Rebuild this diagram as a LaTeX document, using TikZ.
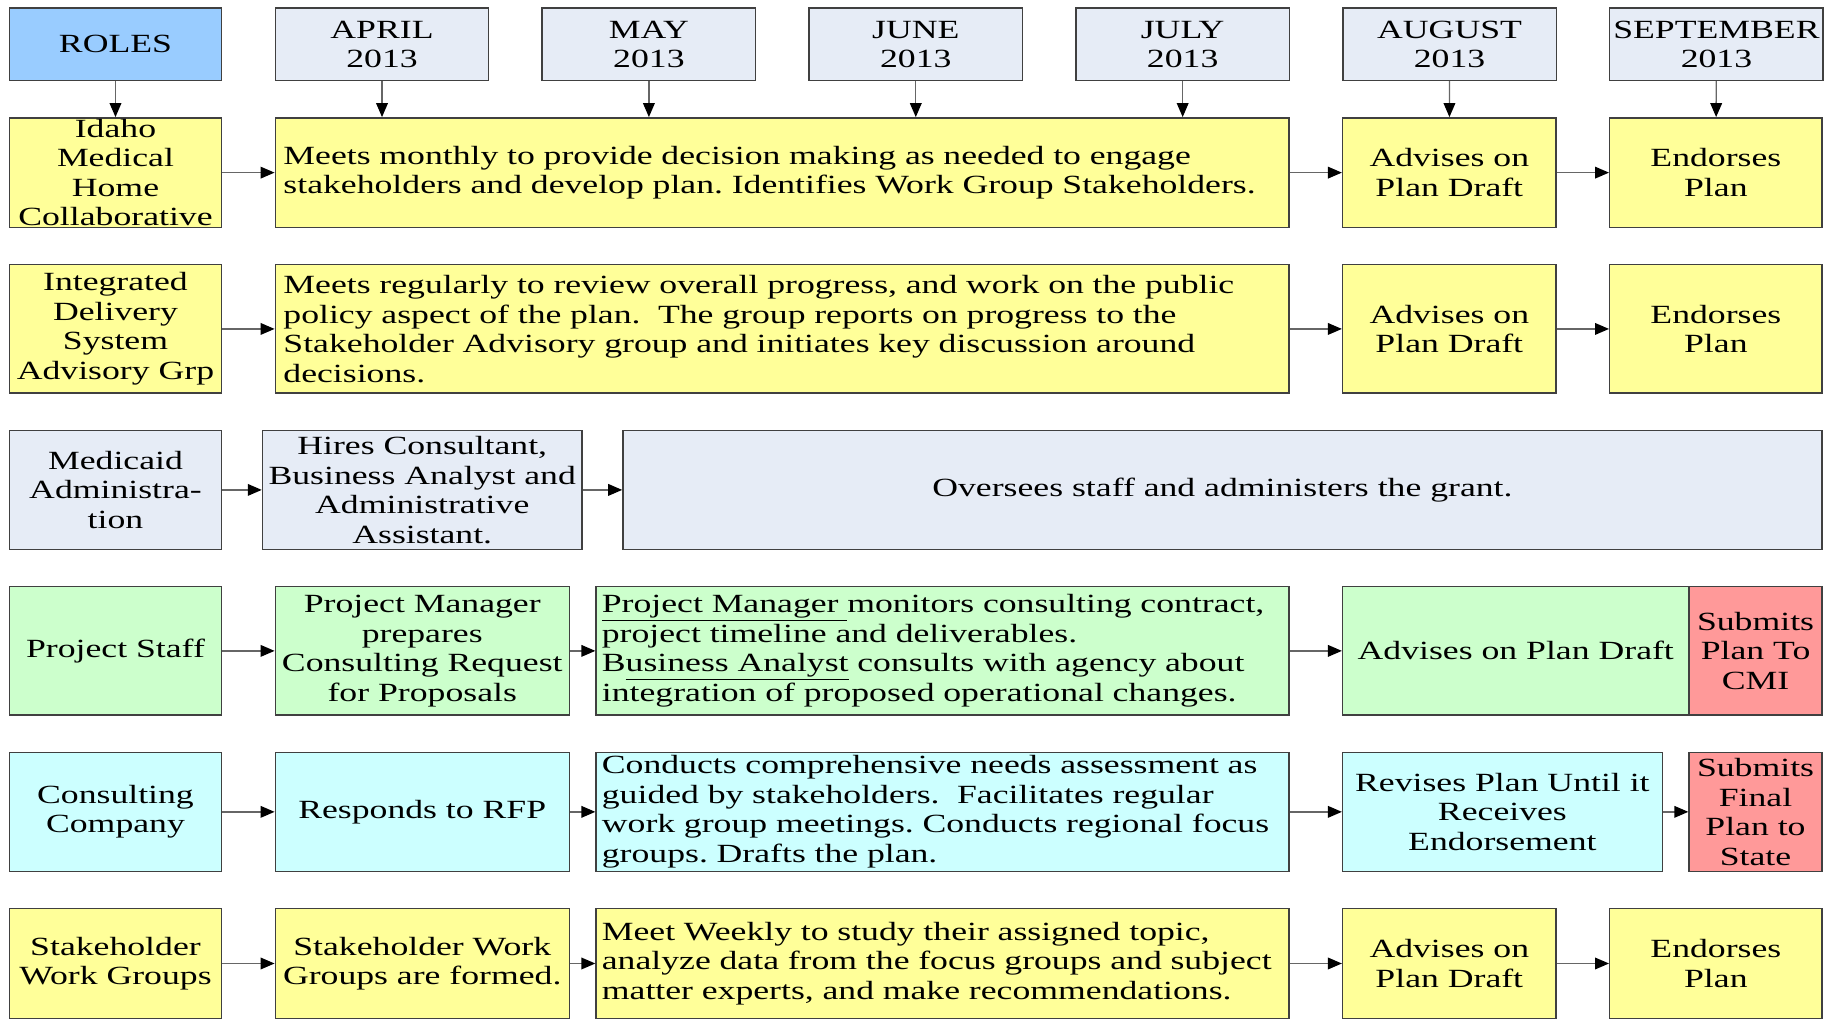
\documentclass[tikz,border=0pt]{standalone}
\usepackage{fontspec}
\setmainfont{Liberation Serif}[FakeStretch=1.36]
\usetikzlibrary{arrows.meta}
\definecolor{rolesblue}{HTML}{99CCFF}
\definecolor{monthgray}{HTML}{E6ECF6}
\definecolor{planyellow}{HTML}{FFFF99}
\definecolor{staffgreen}{HTML}{CCFFCC}
\definecolor{consultcyan}{HTML}{CCFFFF}
\definecolor{submitred}{HTML}{FF9999}
\frenchspacing

\tikzset{
  box/.style={draw=black!75, line width=1.2pt, inner sep=0pt, align=center,
    font=\fontsize{22.5}{25.3}\selectfont},
  lbox/.style={draw=black!75, line width=1.2pt, inner sep=0pt, align=left,
    font=\fontsize{22.5}{25.3}\selectfont},
  arr/.style={draw=black!60, line width=1.2pt,
    -{Triangle[length=12pt,width=10pt,color=black]}},
}

\begin{document}
\begin{tikzpicture}[x=1pt, y=-1pt]
    \useasboundingbox (0,0) rectangle (1568,874);
    % header row
    \node[box, fill=rolesblue, minimum width=182, minimum height=62] (roles) at (99,38) {ROLES};
    \foreach \mon [count=\i] in {APRIL, MAY, JUNE, JULY, AUGUST, SEPTEMBER}
        \node[box, fill=monthgray, minimum width=183, minimum height=62] (m\i) at ({327.5+228.8*(\i-1)},38) {\mon\\2013};

    % Idaho Medical Home Collaborative
    \node[box, fill=planyellow, minimum width=182, minimum height=94] (idaho) at (99,148) {Idaho\\Medical\\Home\\Collaborative};
    \node[lbox, fill=planyellow, minimum width=869, minimum height=94, text width=855] (idahomeet) at (670.5,148)
        {Meets monthly to provide decision making as needed to engage\\stakeholders and develop plan. Identifies Work Group Stakeholders.};
    \node[box, fill=planyellow, minimum width=183, minimum height=94] (idahoadv) at (1242.5,148) {Advises on\\Plan Draft};
    \node[box, fill=planyellow, minimum width=182, minimum height=94] (idahoend) at (1471,148) {Endorses\\Plan};

    % Integrated Delivery System
    \node[box, fill=planyellow, minimum width=182, minimum height=110] (ids) at (99,282) {Integrated\\Delivery\\System\\Advisory Grp};
    \node[lbox, fill=planyellow, minimum width=869, minimum height=110, text width=855] (idsmeet) at (670.5,282)
        {Meets regularly to review overall progress, and work on the public\\policy aspect of the plan.\ \ The group reports on progress to the\\Stakeholder Advisory group and initiates key discussion around\\decisions.};
    \node[box, fill=planyellow, minimum width=183, minimum height=110] (idsadv) at (1242.5,282) {Advises on\\Plan Draft};
    \node[box, fill=planyellow, minimum width=182, minimum height=110] (idsend) at (1471,282) {Endorses\\Plan};

    % Medicaid
    \node[box, fill=monthgray, minimum width=182, minimum height=102] (medicaid) at (99,420) {Medicaid\\Administra-\\tion};
    \node[box, fill=monthgray, minimum width=274, minimum height=102] (hires) at (362,420) {Hires Consultant,\\Business Analyst and\\Administrative\\Assistant.};
    \node[box, fill=monthgray, minimum width=1028, minimum height=102] (oversee) at (1048,420) {Oversees staff and administers the grant.};

    % Project Staff
    \node[box, fill=staffgreen, minimum width=182, minimum height=110] (staff) at (99,558) {Project Staff};
    \node[box, fill=staffgreen, minimum width=252, minimum height=110] (pmprep) at (362,558) {Project Manager\\prepares\\Consulting Request\\for Proposals};
    \node[lbox, fill=staffgreen, minimum width=594, minimum height=110, text width=584] (pmmon) at (808,558)
        {\underline{Project Manager }monitors consulting contract,\\project timeline and deliverables.\\B\underline{usiness Analyst} consults with agency about\\integration of proposed operational changes.};
    \node[box, fill=staffgreen, minimum width=297, minimum height=110] (staffadv) at (1299.5,558) {Advises on Plan Draft};
    \node[box, fill=submitred, minimum width=114, minimum height=110] (cmi) at (1505,558) {Submits\\Plan To\\CMI};

    % Consulting Company
    \node[box, fill=consultcyan, minimum width=182, minimum height=102] (consult) at (99,696) {Consulting\\Company};
    \node[box, fill=consultcyan, minimum width=252, minimum height=102] (rfp) at (362,696) {Responds to RFP};
    \node[lbox, fill=consultcyan, minimum width=594, minimum height=102, text width=584] (assess) at (808,696)
        {Conducts comprehensive needs assessment as\\guided by stakeholders.\ \ Facilitates regular\\work group meetings. Conducts regional focus\\groups. Drafts the plan.};
    \node[box, fill=consultcyan, minimum width=274, minimum height=102] (revise) at (1288,696) {Revises Plan Until it\\Receives\\Endorsement};
    \node[box, fill=submitred, minimum width=114, minimum height=102] (state) at (1505,696) {Submits\\Final\\Plan to\\State};

    % Stakeholder Work Groups
    \node[box, fill=planyellow, minimum width=182, minimum height=94] (swg) at (99,826) {Stakeholder\\Work Groups};
    \node[box, fill=planyellow, minimum width=252, minimum height=94] (formed) at (362,826) {Stakeholder Work\\Groups are formed.};
    \node[lbox, fill=planyellow, minimum width=594, minimum height=94, text width=584] (weekly) at (808,826)
        {Meet Weekly to study their assigned topic,\\analyze data from the focus groups and subject\\matter experts, and make recommendations.};
    \node[box, fill=planyellow, minimum width=183, minimum height=94] (swgadv) at (1242.5,826) {Advises on\\Plan Draft};
    \node[box, fill=planyellow, minimum width=182, minimum height=94] (swgend) at (1471,826) {Endorses\\Plan};

    % arrows down from the header
    \draw[arr] (roles) -- (idaho);
    \foreach \i in {1,...,4}
        \draw[arr] (m\i) -- (m\i |- idahomeet.north);
    \draw[arr] (m5) -- (idahoadv);
    \draw[arr] (m6) -- (idahoend);

    % arrows along the rows
    \draw[arr] (idaho) -- (idahomeet);
    \draw[arr] (idahomeet) -- (idahoadv);
    \draw[arr] (idahoadv) -- (idahoend);
    \draw[arr] (ids) -- (idsmeet);
    \draw[arr] (idsmeet) -- (idsadv);
    \draw[arr] (idsadv) -- (idsend);
    \draw[arr] (medicaid) -- (hires);
    \draw[arr] (hires) -- (oversee);
    \draw[arr] (staff) -- (pmprep);
    \draw[arr] (pmprep) -- (pmmon);
    \draw[arr] (pmmon) -- (staffadv);
    \draw[arr] (consult) -- (rfp);
    \draw[arr] (rfp) -- (assess);
    \draw[arr] (assess) -- (revise);
    \draw[arr] (revise) -- (state);
    \draw[arr] (swg) -- (formed);
    \draw[arr] (formed) -- (weekly);
    \draw[arr] (weekly) -- (swgadv);
    \draw[arr] (swgadv) -- (swgend);
\end{tikzpicture}
\end{document}
